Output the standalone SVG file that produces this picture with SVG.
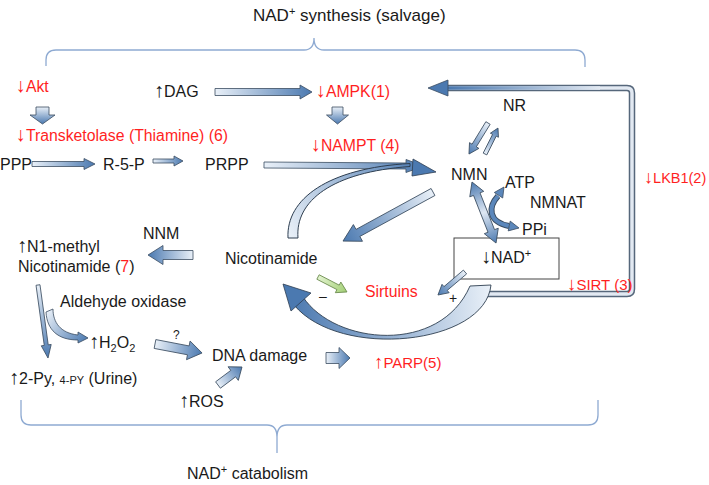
<svg xmlns="http://www.w3.org/2000/svg" width="709" height="485" viewBox="0 0 709 485">
<style>
text{font-family:"Liberation Sans",Arial,sans-serif;font-size:16px;fill:#1a1a1a}
.r{fill:#ff1f1f;font-size:15.8px}
.a{font-size:1.25em}
.ar{fill:url(#gb);stroke:#3b4d61;stroke-width:0.8;stroke-linejoin:round}
.br{fill:none;stroke:#8eaad2;stroke-width:1.3}
</style>
<defs>
<linearGradient id="gb" x1="0" y1="0" x2="1" y2="0"><stop offset="0" stop-color="#e9f0f8"/><stop offset="1" stop-color="#4b79b0"/></linearGradient>
<linearGradient id="gd" x1="0" y1="0" x2="1" y2="0"><stop offset="0" stop-color="#4b79b0"/><stop offset="0.5" stop-color="#dfe8f3"/><stop offset="1" stop-color="#4b79b0"/></linearGradient>
<linearGradient id="gg" x1="0" y1="0" x2="1" y2="0"><stop offset="0" stop-color="#e2f3cf"/><stop offset="1" stop-color="#a3cf76"/></linearGradient>
<linearGradient id="gc1" gradientUnits="userSpaceOnUse" x1="290" y1="238" x2="425" y2="166"><stop offset="0" stop-color="#e9f0f8"/><stop offset="1" stop-color="#4b79b0"/></linearGradient>
<linearGradient id="gc2" gradientUnits="userSpaceOnUse" x1="490" y1="290" x2="290" y2="300"><stop offset="0" stop-color="#e9f0f8"/><stop offset="0.45" stop-color="#9db7d6"/><stop offset="1" stop-color="#4b79b0"/></linearGradient>
<linearGradient id="gc3" gradientUnits="userSpaceOnUse" x1="48" y1="310" x2="88" y2="340"><stop offset="0" stop-color="#e9f0f8"/><stop offset="1" stop-color="#4b79b0"/></linearGradient>
<linearGradient id="gfb" gradientUnits="userSpaceOnUse" x1="448" y1="0" x2="600" y2="0"><stop offset="0" stop-color="#4b79b0"/><stop offset="1" stop-color="#e2e9f2"/></linearGradient>
</defs>

<g id="braces">
<path class="br" d="M46,66 L46,60 Q46,50 56,50 L304,50 Q314,50 314,38 Q314,50 324,50 L575,50 Q585,50 585,60 L585,67"/>
<path class="br" d="M21,400 L21,415 Q21,425 31,425 L267,425 Q277,425 277,437 L277,453 M277,437 Q277,425 287,425 L588,425 Q598,425 598,415 L598,400"/>
</g>

<g id="nad-box"><rect x="454" y="238" width="105" height="41" fill="#fff" stroke="#444" stroke-width="1"/><text x="481" y="263"><tspan class="a">↓</tspan>NAD<tspan font-size="11" dy="-6">+</tspan></text></g>

<g id="connectors">
<path d="M472,294 L627,294 Q632,294 632,289 L632,93 Q632,88 627,88 L446,88" fill="none" stroke="#56677b" stroke-width="6.5"/>
<path d="M472,294 L627,294 Q632,294 632,289 L632,93 Q632,88 627,88 L446,88" fill="none" stroke="#e2e9f2" stroke-width="3.5"/>
<path d="M446,88 L600,88" stroke="url(#gfb)" stroke-width="3.5"/>
<polygon points="448,80 428,88 448,96" fill="#4b79b0" stroke="#3b4d61" stroke-width="0.8"/>

<polygon class="ar" transform="translate(42.5,107) rotate(90)" points="0,-6.5 8,-6.5 8,-12.5 17,0 8,12.5 8,6.5 0,6.5"/>
<polygon class="ar" transform="translate(337.5,107) rotate(90)" points="0,-5.5 8,-5.5 8,-11 17,0 8,11 8,5.5 0,5.5"/>
<polygon class="ar" transform="translate(215,92)" points="0,-3.5 85,-3.5 85,-7 97,0 85,7 85,3.5 0,3.5"/>
<polygon class="ar" transform="translate(32,164)" points="0,-2.5 52,-2.5 52,-5.5 63,0 52,5.5 52,2.5 0,2.5"/>
<polygon class="ar" transform="translate(153,161)" points="0,-2 21,-2 21,-5 30,0 21,5 21,2 0,2"/>
<polygon class="ar" transform="translate(264,165) rotate(0.4)" points="0,-3 142,-3 142,-6.5 160,0 142,6.5 142,3 0,3"/>
<path d="M288,238 C286,199 328,168 410,163.5 L410,166.5 C332,172 295,201 298,238 Z" fill="url(#gc1)" stroke="#2e3e50" stroke-width="1"/>
<polygon points="413,159 436,172 412,176" fill="#4b79b0" stroke="#2e3e50" stroke-width="0.8"/>
<polygon class="ar" transform="translate(488,123) rotate(121.5)" points="0,-2.5 26.4,-2.5 26.4,-5.5 36.4,0 26.4,5.5 26.4,2.5 0,2.5"/>
<polygon class="ar" transform="translate(485,154) rotate(-63.4)" points="0,-2 21,-2 21,-4.5 29,0 21,4.5 21,2 0,2"/>
<polygon class="ar" style="fill:url(#gd)" transform="translate(472,182) rotate(68.5)" points="0,0 13,-7.5 13,-3.5 52.6,-3.5 52.6,-7.5 65.6,0 52.6,7.5 52.6,3.5 13,3.5 13,7.5"/>
<path d="M498,196 C488,207 488,222 509,226" fill="none" stroke="#3b4d61" stroke-width="6"/>
<path d="M498,196 C488,207 488,222 509,226" fill="none" stroke="#5b87bb" stroke-width="4"/>
<polygon points="504,187 502.7,198 494.3,192.5" fill="#5b87bb" stroke="#3b4d61" stroke-width="0.8"/>
<polygon points="519,228 508.2,230.9 510.2,221.1" fill="#5b87bb" stroke="#3b4d61" stroke-width="0.8"/>
<polygon class="ar" transform="translate(433,192) rotate(151.4)" points="0,-4 85.5,-4 85.5,-9.5 102.5,0 85.5,9.5 85.5,4 0,4"/>
<polygon class="ar" transform="translate(465,272) rotate(139.6)" points="0,-2.5 25.5,-2.5 25.5,-5.5 35.5,0 25.5,5.5 25.5,2.5 0,2.5"/>
<polygon transform="translate(318,277) rotate(27.3)" points="0,-2.5 22.6,-2.5 22.6,-6 32.6,0 22.6,6 22.6,2.5 0,2.5" fill="url(#gg)" stroke="#6b8a4d" stroke-width="0.8"/>
<path d="M303,297 C335,345 440,355 470,286 L491,285 C485,345 340,360 294,305 Z" fill="url(#gc2)" stroke="#2e3e50" stroke-width="0.9"/>
<polygon points="283,284 311,293 291,311" fill="#4b79b0" stroke="#2e3e50" stroke-width="0.8"/>
<polygon class="ar" transform="translate(193,255) rotate(180)" points="0,-4.5 30,-4.5 30,-9.5 45,0 30,9.5 30,4.5 0,4.5"/>
<polygon class="ar" transform="translate(38,285) rotate(82.2)" points="0,-2 60.7,-2 60.7,-5 73.7,0 60.7,5 60.7,2 0,2"/>
<path d="M46,312 L53,309 C53,322 60,333 78,335 L78,332 L88,338 L78,343 L78,340 C58,340 47,330 46,312 Z" fill="url(#gc3)" stroke="#3b4d61" stroke-width="0.8"/>
<polygon class="ar" transform="translate(155,344) rotate(10.8)" points="0,-4.5 33.9,-4.5 33.9,-9.5 47.9,0 33.9,9.5 33.9,4.5 0,4.5"/>
<polygon class="ar" transform="translate(326,358)" points="0,-5.5 13,-5.5 13,-10.5 24,0 13,10.5 13,5.5 0,5.5"/>
<polygon class="ar" transform="translate(218,385) rotate(-36.9)" points="0,-4 19,-4 19,-8.5 30,0 19,8.5 19,4 0,4"/>
</g>

<g id="title-top"><text x="253" y="21" style="font-size:17px">NAD<tspan font-size="11" dy="-6">+</tspan><tspan dy="6"> synthesis (salvage)</tspan></text></g>
<g id="title-bottom"><text x="187" y="479">NAD<tspan font-size="11" dy="-6">+</tspan><tspan dy="6"> catabolism</tspan></text></g>
<g id="akt"><text class="r" x="16" y="92"><tspan class="a">↓</tspan>Akt</text></g>
<g id="dag"><text x="154" y="97"><tspan class="a">↑</tspan>DAG</text></g>
<g id="ampk"><text class="r" x="316" y="97"><tspan class="a">↓</tspan>AMPK(1)</text></g>
<g id="transketolase"><text class="r" x="16" y="141"><tspan class="a">↓</tspan>Transketolase (Thiamine) (6)</text></g>
<g id="nampt"><text class="r" x="311" y="151"><tspan class="a">↓</tspan>NAMPT (4)</text></g>
<g id="ppp"><text x="0" y="170">PPP</text></g>
<g id="r5p"><text x="103" y="170">R-5-P</text></g>
<g id="prpp"><text x="205" y="170">PRPP</text></g>
<g id="nr"><text x="503" y="111">NR</text></g>
<g id="nmn"><text x="451" y="180">NMN</text></g>
<g id="atp"><text x="505" y="188">ATP</text></g>
<g id="nmnat"><text x="530" y="208">NMNAT</text></g>
<g id="ppi"><text x="522" y="235">PPi</text></g>
<g id="lkb1"><text class="r" x="644" y="183" style="font-size:14.5px"><tspan class="a">↓</tspan>LKB1(2)</text></g>
<g id="sirt"><text class="r" x="567" y="290" style="font-size:15px"><tspan class="a">↓</tspan>SIRT (3)</text></g>
<g id="sirtuins"><text class="r" x="365" y="297">Sirtuins</text><text x="453" y="303" style="font-size:14px" text-anchor="middle">+</text><text x="323" y="301" style="font-size:14px" text-anchor="middle">–</text></g>
<g id="nicotinamide"><text x="225" y="264">Nicotinamide</text></g>
<g id="nnm"><text x="143" y="239">NNM</text></g>
<g id="n1methyl"><text x="17" y="252"><tspan class="a">↑</tspan>N1-methyl</text><text x="18" y="272">Nicotinamide (<tspan fill="#ff1f1f">7</tspan>)</text></g>
<g id="aldehyde"><text x="60" y="307">Aldehyde oxidase</text></g>
<g id="h2o2"><text x="89" y="348"><tspan class="a">↑</tspan>H<tspan font-size="11" dy="4">2</tspan><tspan dy="-4">O</tspan><tspan font-size="11" dy="4">2</tspan></text></g>
<g id="question"><text x="173" y="339" style="font-size:12px">?</text></g>
<g id="pyridone"><text x="9" y="384"><tspan class="a">↑</tspan>2-Py, <tspan font-size="11">4-PY</tspan> (Urine)</text></g>
<g id="dna"><text x="212" y="361">DNA damage</text></g>
<g id="parp"><text class="r" x="374" y="368" style="font-size:15px"><tspan class="a">↑</tspan>PARP(5)</text></g>
<g id="ros"><text x="179" y="407"><tspan class="a">↑</tspan>ROS</text></g>
</svg>
